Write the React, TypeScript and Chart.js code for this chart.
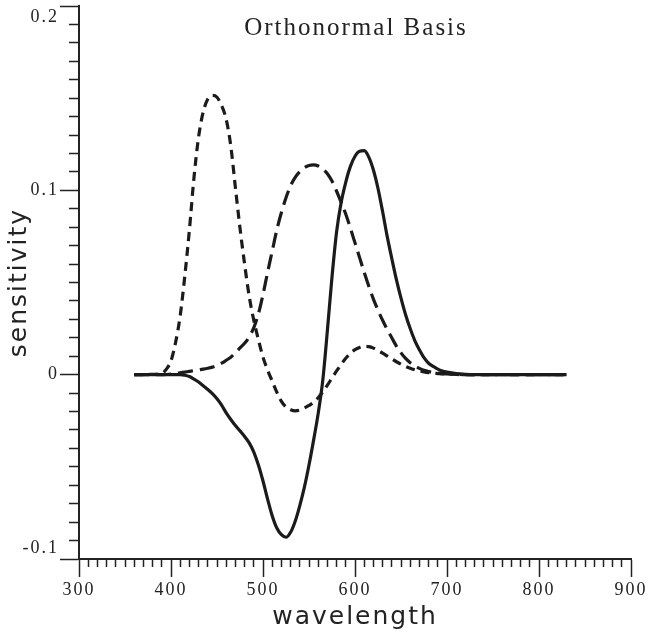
import React, { useEffect, useRef } from 'react';
import { Chart, registerables } from 'chart.js';

Chart.register(...registerables);

const TITLE = 'Orthonormal Basis';
const X_LABEL = 'wavelength';
const Y_LABEL = 'sensitivity';

const X_MIN = 300;
const X_MAX = 900;
const X_MINOR = 10;
const X_MAJOR = 100;
const Y_MIN = -0.1;
const Y_MAX = 0.2;
const Y_MINOR = 0.01;
const Y_MAJOR = 0.1;

const X_TICK_LABELS = ['300', '400', '500', '600', '700', '800', '900'];
const Y_TICK_LABELS = ['-0.1', '0', '0.1', '0.2'];

const wavelengths = [
  360, 370, 380, 390, 395,
  400, 405, 410, 415, 420, 425, 430, 435, 440, 445,
  450, 455, 460, 465, 470, 475, 480, 485, 490, 495,
  500, 505, 510, 515, 520, 525, 530, 535, 540, 545,
  550, 555, 560, 565, 570, 575, 580, 585, 590, 595,
  600, 605, 610, 615, 620, 625, 630, 635, 640, 645,
  650, 655, 660, 665, 670, 675, 680, 685, 690, 695,
  700, 710, 720, 730, 740, 750, 760, 770, 780, 790, 800, 810, 820, 830,
];

// solid curve
const basisSolid = [
  0, 0, 0, 0, 0,
  0, 0, 0, -0.0003, -0.001, -0.0024, -0.004, -0.006, -0.008, -0.0103,
  -0.0131, -0.0165, -0.0207, -0.0243, -0.0276, -0.0305, -0.0335, -0.037, -0.042, -0.049,
  -0.0577, -0.0675, -0.0765, -0.0832, -0.0868, -0.0882, -0.0855, -0.0795, -0.071, -0.061,
  -0.049, -0.0355, -0.021, -0.003, 0.024, 0.053, 0.0775, 0.0935, 0.1045, 0.113,
  0.1185, 0.1212, 0.1215, 0.118, 0.111, 0.101, 0.0885, 0.075, 0.063, 0.0515,
  0.0415, 0.0325, 0.025, 0.0185, 0.0135, 0.0092, 0.0062, 0.0045, 0.003, 0.002,
  0.0014, 0.0006, 0.0002, 0, 0, 0, 0, 0, 0, 0, 0, 0, 0, 0,
];

// short-dash curve
const basisShortDash = [
  0, 0, 0.0002, 0.0006, 0.003,
  0.0075, 0.0175, 0.032, 0.0535, 0.0785, 0.107, 0.129, 0.1425, 0.1495, 0.1515,
  0.1505, 0.146, 0.1385, 0.124, 0.1015, 0.0795, 0.06, 0.0425, 0.0295, 0.019,
  0.0095, 0.0025, -0.0035, -0.0095, -0.0145, -0.0175, -0.019, -0.0196, -0.0192, -0.0181,
  -0.0167, -0.015, -0.0125, -0.0093, -0.0057, -0.0018, 0.002, 0.0056, 0.0089, 0.0116,
  0.0136, 0.0148, 0.0154, 0.0152, 0.0144, 0.0131, 0.0117, 0.0101, 0.0085, 0.007,
  0.0057, 0.0045, 0.0035, 0.0027, 0.002, 0.0015, 0.0011, 0.0008, 0.0006, 0.0004,
  0.0003, 0.0001, 0, 0, 0, 0, 0, 0, 0, 0, 0, 0, 0, 0,
];

// long-dash curve
const basisLongDash = [
  0, 0, 0, 0, 0.0001,
  0.0003, 0.0006, 0.001, 0.0014, 0.0018, 0.0022, 0.0026, 0.003, 0.0035, 0.0041,
  0.0049, 0.0062, 0.0078, 0.0095, 0.0118, 0.0145, 0.017, 0.0205, 0.0255, 0.033,
  0.0435, 0.0555, 0.067, 0.0785, 0.088, 0.096, 0.1025, 0.107, 0.1102, 0.1123,
  0.1135, 0.1138, 0.1132, 0.1115, 0.109, 0.105, 0.0995, 0.0935, 0.087, 0.0795,
  0.0715, 0.0635, 0.0555, 0.048, 0.041, 0.035, 0.0295, 0.0245, 0.02, 0.0155,
  0.0118, 0.0088, 0.0065, 0.0048, 0.0034, 0.0024, 0.0017, 0.0012, 0.0008, 0.0006,
  0.0004, 0.0002, 0, 0, 0, 0, 0, 0, 0, 0, 0, 0, 0, 0,
];

const INK = '#1b1b1b';
const AXIS_INK = '#222222';

const toPoints = (ys: number[]) => wavelengths.map((x, i) => ({ x, y: ys[i] }));

const isMajor = (value: number, step: number) => {
  const r = value / step;
  return Math.abs(r - Math.round(r)) < 1e-6;
};

const textPlugin = {
  id: 'textStyle',
  beforeDraw(chart: any) {
    chart.ctx.letterSpacing = '2px';
  },
  afterDraw(chart: any) {
    const ctx = chart.ctx;
    ctx.letterSpacing = '0px';
    const area = chart.chartArea;
    ctx.save();
    ctx.letterSpacing = '2px';
    ctx.font = '25px "Liberation Serif", "Times New Roman", serif';
    ctx.fillStyle = AXIS_INK;
    ctx.textAlign = 'center';
    ctx.textBaseline = 'alphabetic';
    ctx.fillText(TITLE, (area.left + area.right) / 2 + 1, area.top + 29);
    ctx.restore();
  },
};

export default function App() {
  const canvasRef = useRef<HTMLCanvasElement | null>(null);

  useEffect(() => {
    const canvas = canvasRef.current;
    if (!canvas) return;

    const zeroPadding = (scale: any) => {
      scale.paddingLeft = 0;
      scale.paddingRight = 0;
      scale.paddingTop = 0;
      scale.paddingBottom = 0;
    };

    const chart = new Chart(canvas, {
      type: 'line',
      data: {
        datasets: [
          {
            label: 'long dash',
            data: toPoints(basisLongDash),
            borderColor: INK,
            borderWidth: 3.2,
            borderDash: [15, 7],
            pointRadius: 0,
            fill: false,
            cubicInterpolationMode: 'monotone',
          },
          {
            label: 'short dash',
            data: toPoints(basisShortDash),
            borderColor: INK,
            borderWidth: 3.2,
            borderDash: [9, 6],
            pointRadius: 0,
            fill: false,
            cubicInterpolationMode: 'monotone',
          },
          {
            label: 'solid',
            data: toPoints(basisSolid),
            borderColor: INK,
            borderWidth: 3.2,
            pointRadius: 0,
            fill: false,
            cubicInterpolationMode: 'monotone',
          },
        ],
      },
      options: {
        animation: false,
        responsive: false,
        maintainAspectRatio: false,
        devicePixelRatio: 1,
        layout: { padding: { top: 6, right: 18, bottom: 0, left: 0 } },
        plugins: {
          legend: { display: false },
          tooltip: { enabled: false },
          title: { display: false },
        },
        scales: {
          x: {
            type: 'linear',
            position: 'bottom',
            min: X_MIN,
            max: X_MAX,
            afterBuildTicks: (scale: any) => {
              const ticks = [];
              for (let k = Math.round(X_MIN / X_MINOR); k <= Math.round(X_MAX / X_MINOR); k++) {
                ticks.push({ value: k * X_MINOR });
              }
              scale.ticks = ticks;
            },
            afterFit: (scale: any) => {
              scale.height = 73;
              zeroPadding(scale);
            },
            ticks: {
              autoSkip: false,
              maxRotation: 0,
              padding: 2,
              color: AXIS_INK,
              font: { family: '"Liberation Serif", "Times New Roman", serif', size: 18 },
              callback: (v: any) => {
                const val = Number(v);
                if (!isMajor(val, X_MAJOR)) return '';
                const idx = Math.round((val - X_MIN) / X_MAJOR);
                return X_TICK_LABELS[idx] ?? '';
              },
            },
            grid: {
              display: true,
              drawOnChartArea: false,
              drawTicks: true,
              tickLength: 18,
              tickWidth: 1.5,
              tickColor: AXIS_INK,
              tickBorderDash: (ctx: any) => (ctx.tick && isMajor(ctx.tick.value, X_MAJOR) ? [] : [7, 100]),
            },
            border: { display: true, width: 2, color: AXIS_INK },
            title: {
              display: true,
              text: X_LABEL,
              color: AXIS_INK,
              font: { family: '"DejaVu Sans", sans-serif', size: 25, lineHeight: 1.2 },
              padding: { top: 0, bottom: 0 },
            },
          },
          y: {
            type: 'linear',
            position: 'left',
            min: Y_MIN,
            max: Y_MAX,
            afterBuildTicks: (scale: any) => {
              const ticks = [];
              for (let k = Math.round(Y_MIN / Y_MINOR); k <= Math.round(Y_MAX / Y_MINOR); k++) {
                ticks.push({ value: Number((k * Y_MINOR).toFixed(4)) });
              }
              scale.ticks = ticks;
            },
            afterFit: (scale: any) => {
              scale.width = 79;
              zeroPadding(scale);
            },
            ticks: {
              autoSkip: false,
              padding: 1,
              color: AXIS_INK,
              font: { family: '"Liberation Serif", "Times New Roman", serif', size: 18, lineHeight: 1.2 },
              callback: (v: any) => {
                const val = Number(v);
                if (!isMajor(val, Y_MAJOR)) return '';
                const idx = Math.round((val - Y_MIN) / Y_MAJOR);
                const label = Y_TICK_LABELS[idx] ?? '';
                if (idx === Y_TICK_LABELS.length - 1) return ['', label];
                if (idx === 0) return [label, ''];
                return label;
              },
            },
            grid: {
              display: true,
              drawOnChartArea: false,
              drawTicks: true,
              tickLength: 19,
              tickWidth: 1.5,
              tickColor: AXIS_INK,
              tickBorderDash: (ctx: any) => (ctx.tick && isMajor(ctx.tick.value, Y_MAJOR) ? [] : [0, 9, 9, 100]),
            },
            border: { display: true, width: 2, color: AXIS_INK },
            title: {
              display: true,
              text: Y_LABEL,
              color: AXIS_INK,
              font: { family: '"DejaVu Sans", sans-serif', size: 25, lineHeight: 1.2 },
              padding: { top: 4, bottom: 0 },
            },
          },
        },
      },
      plugins: [textPlugin],
    } as any);

    return () => {
      chart.destroy();
    };
  }, []);

  return (
    <div style={{ position: 'absolute', left: 0, top: 0, width: 649, height: 632, background: '#ffffff' }}>
      <canvas ref={canvasRef} width={649} height={632} style={{ display: 'block', width: 649, height: 632 }} />
    </div>
  );
}
